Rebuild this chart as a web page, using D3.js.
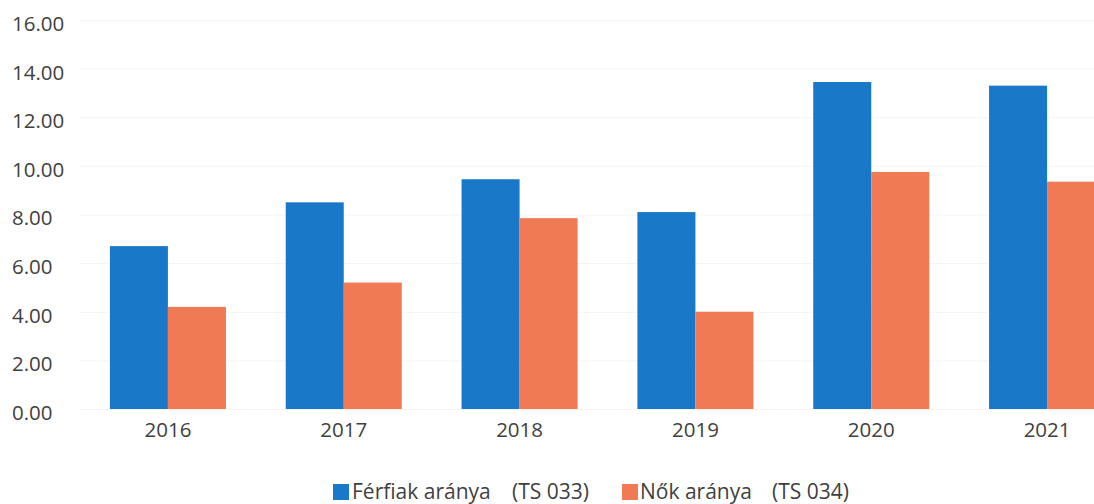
<!DOCTYPE html>
<html><head><meta charset="utf-8">
<script src="https://cdn.jsdelivr.net/npm/d3@7/dist/d3.min.js"></script>
<style>
html,body{margin:0;padding:0;background:#fff;}
svg{display:block;font-family:"Open Sans",Lato,sans-serif;}
</style></head>
<body><svg id="c" width="1094" height="504"></svg>
<script>
const categories = ["2016","2017","2018","2019","2020","2021"];
const men   = [6.70, 8.50, 9.45, 8.10, 13.45, 13.30];
const women = [4.20, 5.20, 7.85, 4.00, 9.75, 9.35];
const seriesNames = ["Férfiak aránya", "Nők aránya"];
const seriesCodes = ["(TS 033)", "(TS 034)"];
const yTicks = [0,2,4,6,8,10,12,14,16];

const colors = ["#1a78c9", "#ef7a54"];
const svg = d3.select("#c");
const textColor = "#3f3f3f";
const fontFam = "'Open Sans', Lato, sans-serif";

const x = d3.scaleBand().domain(categories).range([80, 1135]).paddingInner(0.34).paddingOuter(0.17);
const xs = d3.scaleBand().domain([0,1]).range([0, x.bandwidth()]);
const y = d3.scaleLinear().domain([0,16]).range([409, 20]);

// faint gridlines
svg.append("g").selectAll("line").data(yTicks).join("line")
  .attr("x1", 80).attr("x2", 1094)
  .attr("y1", d=>y(d)+0.5).attr("y2", d=>y(d)+0.5)
  .attr("stroke", "#f4f4f4").attr("stroke-width", 1);

// y axis
const yAxis = svg.append("g").attr("transform","translate(12,0)")
  .call(d3.axisLeft(y).tickValues(yTicks).tickSize(0).tickFormat(d3.format(".2f")));
yAxis.select(".domain").remove();
yAxis.selectAll("text").attr("x", 0).attr("text-anchor","start")
  .attr("dy","0.36em").attr("transform","translate(0,3)")
  .style("font-size","20.5px").style("font-family",fontFam).attr("fill", textColor);

// bars
const data = categories.map((c,i)=>({c, v:[men[i], women[i]]}));
const g = svg.append("g").selectAll("g").data(data).join("g")
  .attr("transform", d=>`translate(${x(d.c)},0)`);
g.selectAll("rect").data(d=>d.v.map((v,k)=>({v,k}))).join("rect")
  .attr("x", d=>xs(d.k)).attr("width", xs.bandwidth())
  .attr("y", d=>y(d.v)).attr("height", d=>y(0)-y(d.v))
  .attr("fill", d=>colors[d.k]);

// x axis
const xAxis = svg.append("g").attr("transform", `translate(0,${y(0)})`)
  .call(d3.axisBottom(x).tickSize(0).tickPadding(13));
xAxis.select(".domain").remove();
xAxis.selectAll("text").attr("dy","0.71em")
  .style("font-size","20.5px").style("font-family",fontFam).attr("fill", textColor);

// legend
const legend = [
  {sq:333, t1:352, t2:512},
  {sq:622, t1:640, t2:772}
];
legend.forEach((L,i)=>{
  svg.append("rect").attr("x", L.sq).attr("y", 484).attr("width", 16).attr("height", 16).attr("fill", colors[i]);
  const t = svg.append("text").attr("y", 499).attr("fill", textColor)
    .style("font-size","21px").style("font-family",fontFam);
  t.append("tspan").attr("x", L.t1).text(seriesNames[i]);
  t.append("tspan").attr("x", L.t2).text(seriesCodes[i]);
});
</script>
</body></html>
